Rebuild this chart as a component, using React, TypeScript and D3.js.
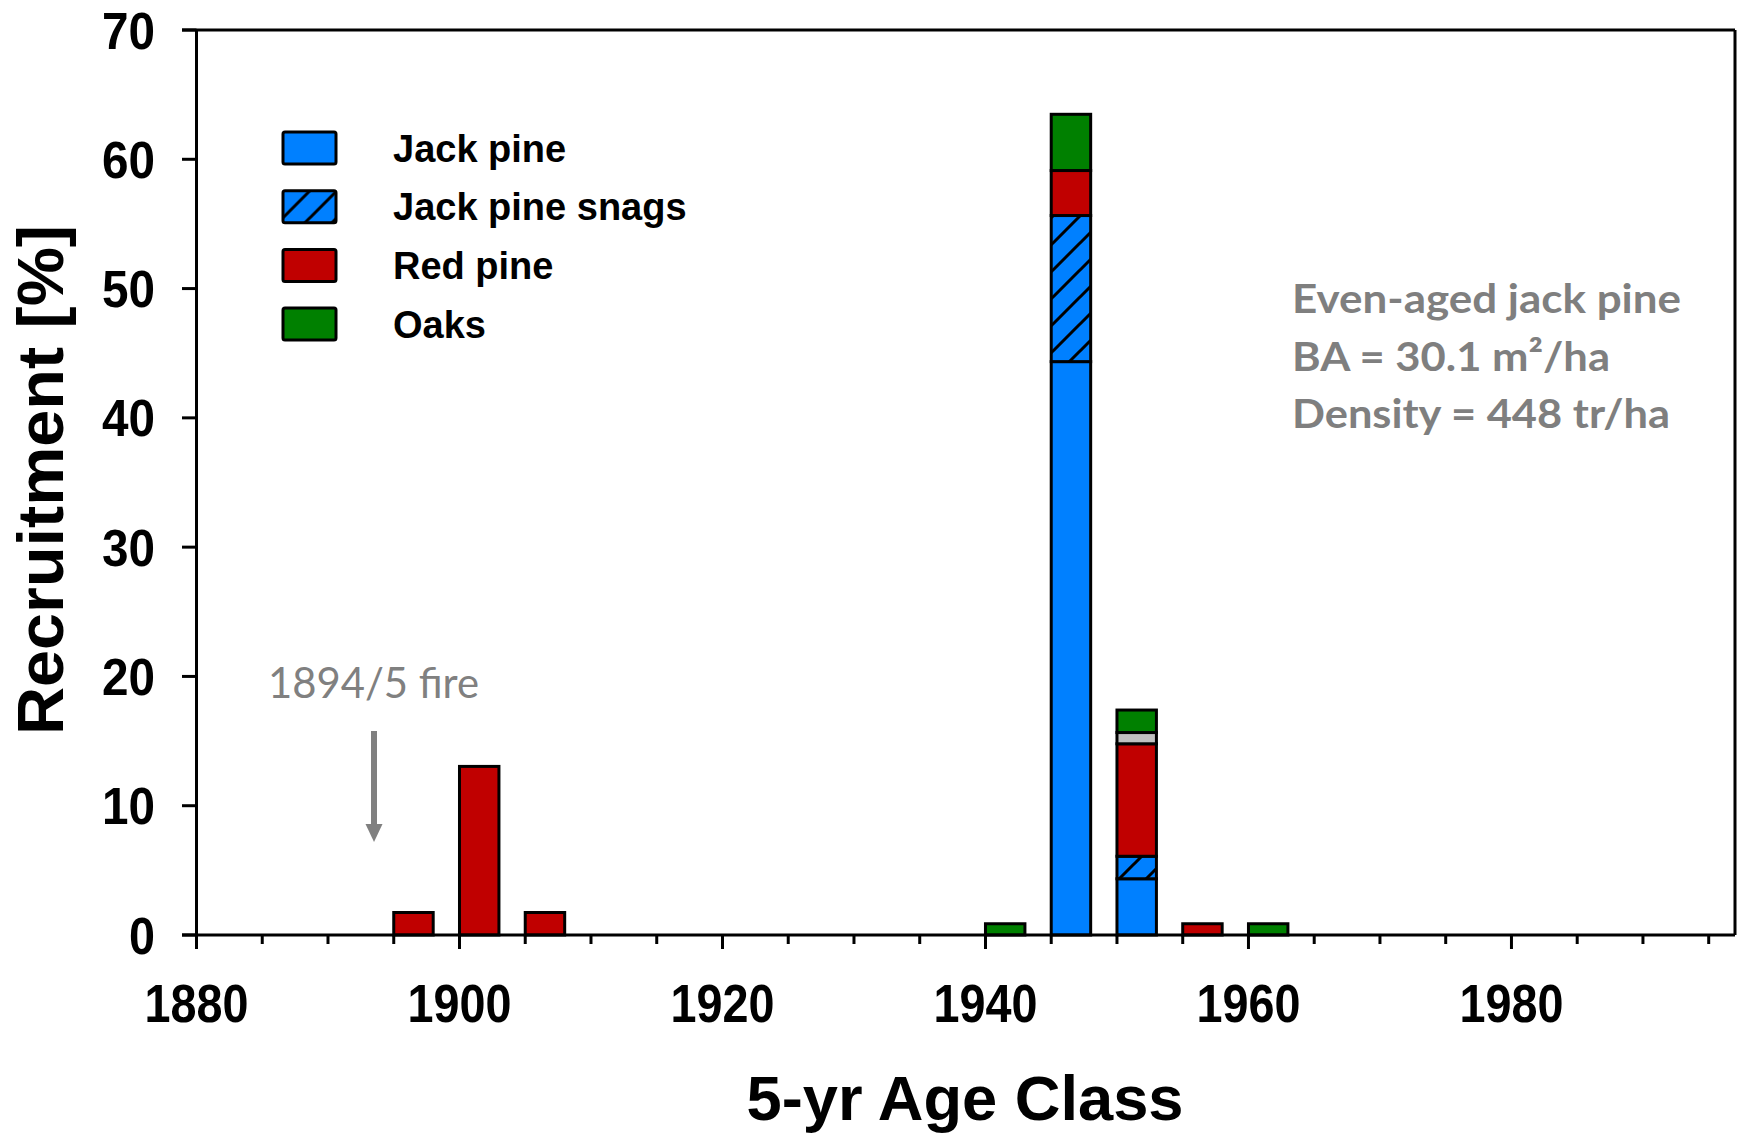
import React from 'react';
import * as d3 from 'd3';

// 5-yr age classes (start year of each class)
const ageClasses = [1895, 1900, 1905, 1940, 1945, 1950, 1955, 1960];

// recruitment [%] per species
const jackPine = [0, 0, 0, 0, 44.35, 4.35, 0, 0];
const jackPineSnags = [0, 0, 0, 0, 11.3, 1.74, 0, 0];
const redPine = [1.74, 13.04, 1.74, 0, 3.48, 8.7, 0.87, 0];
const otherSpp = [0, 0, 0, 0, 0, 0.87, 0, 0];
const oaks = [0, 0, 0, 0.87, 4.35, 1.74, 0, 0.87];

const yTicks = [0, 10, 20, 30, 40, 50, 60, 70];
const xMajorTicks = [1880, 1900, 1920, 1940, 1960, 1980];

const seriesKeys = ['jack', 'snags', 'red', 'other', 'oaks'];
const fills: Record<string, string> = {
    jack: '#0080FF',
    snags: 'url(#snagHatch)',
    red: '#C00000',
    other: '#C0C0C0',
    oaks: '#008000'
};

const legendItems = [
    { key: 'jack', label: 'Jack pine' },
    { key: 'snags', label: 'Jack pine snags' },
    { key: 'red', label: 'Red pine' },
    { key: 'oaks', label: 'Oaks' }
];

const noteLines = ['Even-aged jack pine', 'BA = 30.1 m²/ha', 'Density = 448 tr/ha'];
const noteWidths = [389, 318, 378];

const W = 1742;
const H = 1135;

export default function App() {
    const x = d3.scaleLinear().domain([1880, 1997]).range([196.5, 1735]);
    const y = d3.scaleLinear().domain([0, 70]).range([935, 30]);

    const rows = ageClasses.map((yr, i) => ({
        year: yr,
        jack: jackPine[i],
        snags: jackPineSnags[i],
        red: redPine[i],
        other: otherSpp[i],
        oaks: oaks[i]
    }));
    const stacked = d3.stack<any>().keys(seriesKeys)(rows);

    const minorTicks = d3.range(1880, 1996, 5);
    const classWidth = 3; // bar covers 3 of the 5 years

    const font = '"Liberation Sans", Arial, sans-serif';
    const noteFont = 'Lato, "Open Sans", sans-serif';

    return (
        <svg width={W} height={H} style={{ position: 'absolute', left: 0, top: 0, background: '#fff' }}>
            <defs>
                <pattern id="snagHatch" patternUnits="userSpaceOnUse" width={27} height={27}>
                    <rect width={27} height={27} fill="#0080FF" />
                    <path d="M-7,7 L7,-7 M0,27 L27,0 M20,34 L34,20" stroke="#000" strokeWidth={3} />
                </pattern>
            </defs>

            {/* bars */}
            {stacked.map(layer => (
                <g key={layer.key}>
                    {layer.map((d, i) => {
                        if (d[1] - d[0] <= 0) return null;
                        const yr = ageClasses[i];
                        return (
                            <rect
                                key={yr}
                                x={x(yr)}
                                y={y(d[1])}
                                width={x(yr + classWidth) - x(yr)}
                                height={y(d[0]) - y(d[1])}
                                fill={fills[layer.key]}
                                stroke="#000"
                                strokeWidth={3}
                            />
                        );
                    })}
                </g>
            ))}

            {/* frame */}
            <line x1={182} x2={x(1997)} y1={y(70)} y2={y(70)} stroke="#000" strokeWidth={3} />
            <line x1={x(1997)} x2={x(1997)} y1={y(70)} y2={y(0)} stroke="#000" strokeWidth={3} />
            <line x1={182} x2={x(1997)} y1={y(0)} y2={y(0)} stroke="#000" strokeWidth={3} />
            <line x1={x(1880)} x2={x(1880)} y1={y(70)} y2={y(0) + 14} stroke="#000" strokeWidth={3} />

            {/* y ticks */}
            {yTicks.map(t => (
                <g key={t}>
                    <line x1={182} x2={x(1880)} y1={y(t)} y2={y(t)} stroke="#000" strokeWidth={3} />
                    <text x={155} y={y(t) + 18.5} textAnchor="end" fontFamily={font} fontWeight="bold" fontSize={51}
                        textLength={t === 0 ? 26 : 53} lengthAdjust="spacingAndGlyphs">
                        {t}
                    </text>
                </g>
            ))}

            {/* x ticks */}
            {minorTicks.map(t => (
                <line key={t} x1={x(t)} x2={x(t)} y1={y(0)} y2={y(0) + (t % 20 === 0 ? 14 : 9)} stroke="#000" strokeWidth={3} />
            ))}
            {xMajorTicks.map(t => (
                <text key={t} x={x(t)} y={1022} textAnchor="middle" fontFamily={font} fontWeight="bold" fontSize={53}
                    textLength={104} lengthAdjust="spacingAndGlyphs">
                    {t}
                </text>
            ))}

            {/* axis titles */}
            <text x={965} y={1120} textAnchor="middle" fontFamily={font} fontWeight="bold" fontSize={63}
                textLength={437} lengthAdjust="spacingAndGlyphs">
                5-yr Age Class
            </text>
            <text transform="translate(63,480) rotate(-90)" textAnchor="middle" fontFamily={font} fontWeight="bold" fontSize={64}
                textLength={510} lengthAdjust="spacingAndGlyphs">
                Recruitment [%]
            </text>

            {/* legend */}
            {legendItems.map((item, i) => (
                <g key={item.key} transform={`translate(283,${132 + i * 58.7})`}>
                    <rect width={53} height={32} rx={2} fill={fills[item.key]} stroke="#000" strokeWidth={3} />
                    <text x={110} y={29.5} fontFamily={font} fontWeight="bold" fontSize={38}>
                        {item.label}
                    </text>
                </g>
            ))}

            {/* stand note */}
            {noteLines.map((line, i) => (
                <text key={i} x={1292} y={313 + i * 57.6} fontFamily={noteFont} fontWeight="bold" fontSize={41}
                    fill="#7F7F7F" textLength={noteWidths[i]} lengthAdjust="spacingAndGlyphs">
                    {line}
                </text>
            ))}

            {/* fire annotation */}
            <text x={268} y={698} fontFamily={noteFont} fontSize={43} fill="#808080"
                textLength={211} lengthAdjust="spacingAndGlyphs">
                1894/5 fire
            </text>
            <line x1={x(1893.5)} x2={x(1893.5)} y1={731} y2={826} stroke="#808080" strokeWidth={6} />
            <path
                d={`M${x(1893.5) - 8.5},824 L${x(1893.5) + 8.5},824 L${x(1893.5)},842 Z`}
                fill="#808080"
            />
        </svg>
    );
}
